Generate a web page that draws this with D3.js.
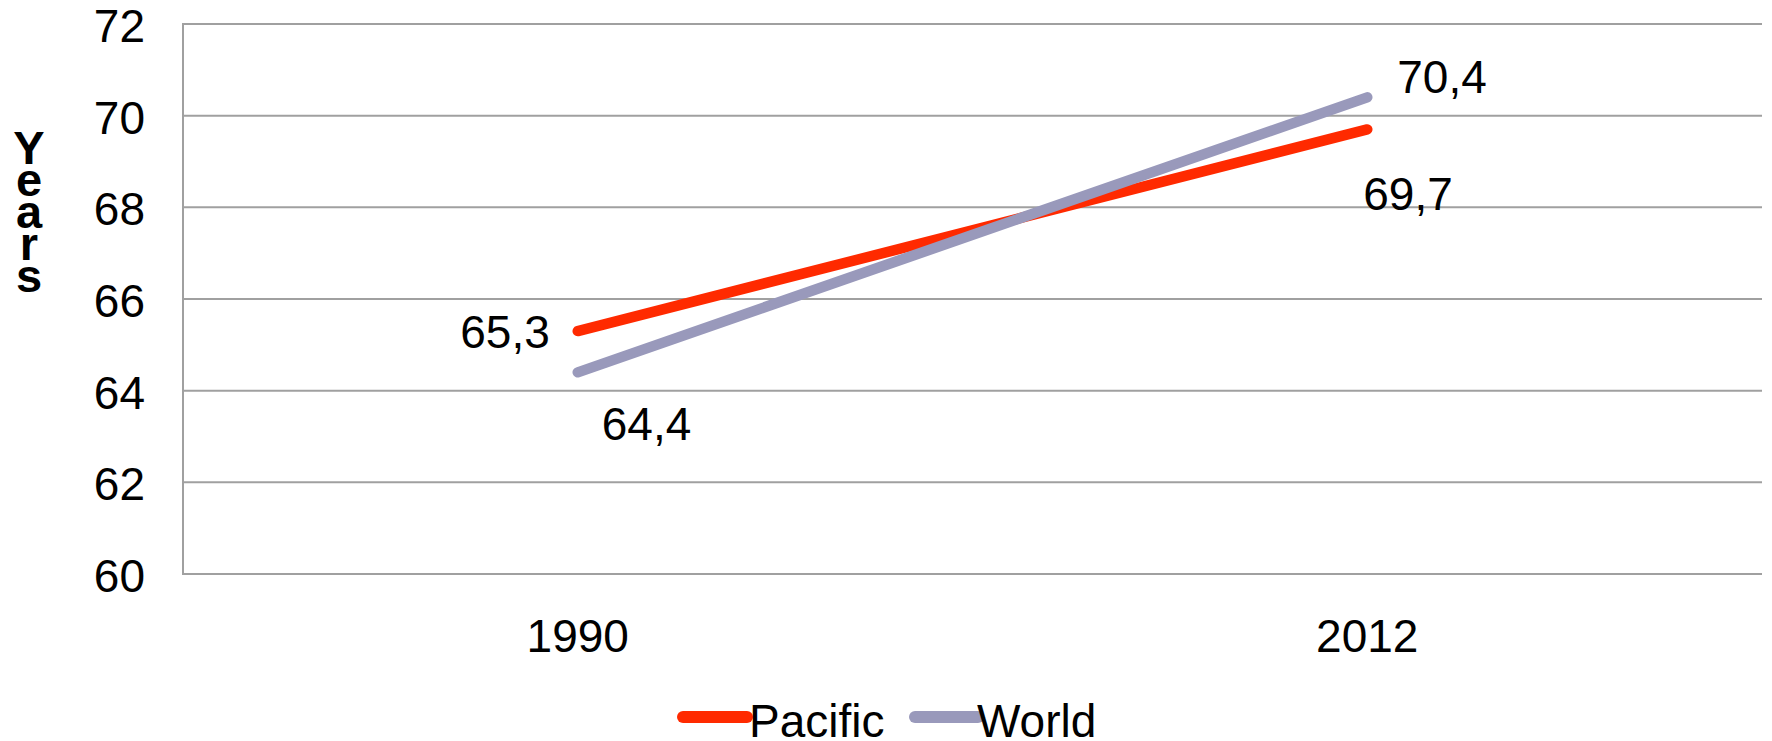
<!DOCTYPE html>
<html>
<head>
<meta charset="utf-8">
<script src="https://cdn.jsdelivr.net/npm/d3@7"></script>
<style>
  html, body { margin: 0; padding: 0; background: #fff; }
  svg { display: block; font-family: "Liberation Sans", Arial, sans-serif; }
</style>
</head>
<body>
<svg id="chart" width="1772" height="741"></svg>
<script>
// Life expectancy, Pacific vs. World
const years = ["1990", "2012"];
const pacific = [65.3, 69.7];
const world = [64.4, 70.4];
const yTicks = [60, 62, 64, 66, 68, 70, 72];
const seriesNames = ["Pacific", "World"];
const seriesColors = ["#ff2a00", "#9999bb"];
const axisTitle = "Years";

const series = [
  { name: seriesNames[0], values: pacific, color: seriesColors[0] },
  { name: seriesNames[1], values: world, color: seriesColors[1] }
];

const svg = d3.select("#chart");
const plot = { left: 183, top: 24, right: 1762, bottom: 574 };

const x = d3.scalePoint()
  .domain(years)
  .range([plot.left, plot.right])
  .padding(0.5);

const y = d3.scaleLinear()
  .domain([60, 72])
  .range([plot.bottom, plot.top]);

const gridColor = "#a0a0a0";

// horizontal gridlines
svg.append("g")
  .selectAll("line")
  .data(yTicks)
  .join("line")
  .attr("x1", plot.left)
  .attr("x2", plot.right)
  .attr("y1", d => y(d))
  .attr("y2", d => y(d))
  .attr("stroke", gridColor)
  .attr("stroke-width", 2);

// left axis line
svg.append("line")
  .attr("x1", plot.left).attr("x2", plot.left)
  .attr("y1", plot.top - 1).attr("y2", plot.bottom + 1)
  .attr("stroke", gridColor)
  .attr("stroke-width", 2);

// y tick labels
svg.append("g")
  .selectAll("text")
  .data(yTicks)
  .join("text")
  .attr("x", 145)
  .attr("y", d => y(d) + 18)
  .attr("text-anchor", "end")
  .attr("font-size", 46)
  .attr("fill", "#000")
  .text(d => d);

// x category labels
svg.append("g")
  .selectAll("text")
  .data(years)
  .join("text")
  .attr("x", d => x(d))
  .attr("y", 652)
  .attr("text-anchor", "middle")
  .attr("font-size", 46)
  .attr("fill", "#000")
  .text(d => d);

// vertical stacked axis title, one letter per line
const title = svg.append("text")
  .attr("text-anchor", "middle")
  .attr("font-size", 47)
  .attr("font-weight", "bold")
  .attr("fill", "#000");
title.selectAll("tspan")
  .data(axisTitle.split(""))
  .join("tspan")
  .attr("x", 29)
  .attr("y", (d, i) => 164 + i * 32)
  .text(d => d);

// series lines
const line = d3.line()
  .x((d, i) => x(years[i]))
  .y(d => y(d));

svg.append("g")
  .selectAll("path")
  .data(series)
  .join("path")
  .attr("d", d => line(d.values))
  .attr("fill", "none")
  .attr("stroke", d => d.color)
  .attr("stroke-width", 10.5)
  .attr("stroke-linecap", "round");

// value labels
const labelFmt = v => String(v).replace(".", ",");
const labelPlacements = [
  // Pacific: left of first point, below last point
  [{ dx: -28, dy: 17, anchor: "end" }, { dx: -4, dy: 81, anchor: "start" }],
  // World: below first point, right of last point
  [{ dx: 24, dy: 68, anchor: "start" }, { dx: 30, dy: -4, anchor: "start" }]
];
series.forEach((s, si) => {
  s.values.forEach((v, i) => {
    const p = labelPlacements[si][i];
    svg.append("text")
      .attr("x", x(years[i]) + p.dx)
      .attr("y", y(v) + p.dy)
      .attr("text-anchor", p.anchor)
      .attr("font-size", 46)
      .attr("fill", "#000")
      .text(labelFmt(v));
  });
});

// legend
const legendItems = [
  { x1: 683, x2: 747, tx: 749 },
  { x1: 915, x2: 978, tx: 977 }
];
const legend = svg.append("g");
series.forEach((s, i) => {
  const it = legendItems[i];
  legend.append("line")
    .attr("x1", it.x1).attr("x2", it.x2)
    .attr("y1", 717).attr("y2", 717)
    .attr("stroke", s.color)
    .attr("stroke-width", 12)
    .attr("stroke-linecap", "round");
  legend.append("text")
    .attr("x", it.tx)
    .attr("y", 737)
    .attr("font-size", 46)
    .attr("fill", "#000")
    .text(s.name);
});
</script>
</body>
</html>
